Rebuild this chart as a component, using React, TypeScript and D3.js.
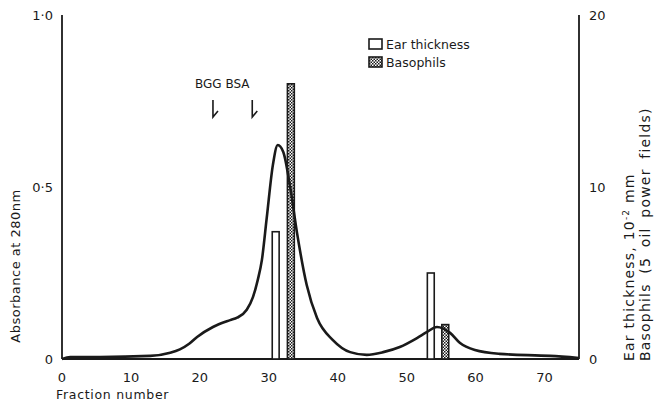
import * as d3 from 'd3'

const fractions = [0, 1.2, 5.5, 12.8, 15.7, 17.1, 18.5, 19.6, 21.9, 24.4, 25.4, 26.8, 27.7, 28.4, 29.0, 29.7, 30.6, 31.3, 32.1, 33.1, 34.1, 35.5, 37, 39.3, 41.8, 44.2, 46.6, 49, 51.5, 52.9, 54.4, 56.3, 57.7, 59.9, 63.5, 70.8, 75]
const absorbance = [0, 0.006, 0.006, 0.009, 0.018, 0.028, 0.045, 0.064, 0.093, 0.113, 0.12, 0.143, 0.18, 0.23, 0.288, 0.41, 0.565, 0.622, 0.602, 0.5, 0.366, 0.215, 0.119, 0.055, 0.02, 0.012, 0.02, 0.035, 0.061, 0.078, 0.093, 0.076, 0.047, 0.026, 0.015, 0.009, 0.003]

const earFractions = [31, 53.5]
const earThickness = [7.4, 5.0]
const basoFractions = [33.2, 55.6]
const basophils = [16, 2.0]

const markerLabels = ['BGG', 'BSA']
const markerFractions = [21.9, 27.6]

const xTicks = [0, 10, 20, 30, 40, 50, 60, 70]
const leftTicks = [0, 0.5, 1]
const leftTickLabels = ['0', '0·5', '1·0']
const rightTicks = [0, 10, 20]

const W = 656
const H = 414
const M = { top: 15, right: 77, bottom: 55, left: 62 }
const FONT = '"DejaVu Sans", sans-serif'
const INK = '#1a1a1a'

export default function App() {
  const x = d3.scaleLinear().domain([0, 75]).range([M.left, W - M.right])
  const yL = d3.scaleLinear().domain([0, 1]).range([H - M.bottom, M.top])
  const yR = d3.scaleLinear().domain([0, 20]).range([H - M.bottom, M.top])

  const pts = fractions.map((f, i) => [f, absorbance[i]] as [number, number])
  const line = d3.line<[number, number]>()
    .x(d => x(d[0]))
    .y(d => yL(d[1]))
    .curve(d3.curveMonotoneX)

  const barW = x(1) - x(0)
  const base = yL(0)

  return (
    <div style={{ position: 'fixed', left: 0, top: 0 }}>
      <svg width={W} height={H} style={{ display: 'block', background: '#fff' }}>
        <defs>
          <pattern id="stip" width="3" height="3" patternUnits="userSpaceOnUse">
            <rect width="3" height="3" fill="#fff" />
            <rect x="0" y="0" width="1.5" height="1.5" fill={INK} />
            <rect x="1.5" y="1.5" width="1.5" height="1.5" fill={INK} />
          </pattern>
        </defs>

        {/* axes */}
        <line x1={x(0)} x2={x(0)} y1={M.top} y2={base} stroke={INK} strokeWidth={1.8} />
        <line x1={x(75)} x2={x(75)} y1={M.top} y2={base} stroke={INK} strokeWidth={1.8} />
        <line x1={x(0)} x2={x(75)} y1={base} y2={base} stroke={INK} strokeWidth={1.8} />

        {/* bars */}
        {earFractions.map((f, i) => (
          <rect key={`ear-${i}`} x={x(f) - barW / 2} y={yR(earThickness[i])} width={barW}
            height={base - yR(earThickness[i])} fill="#fff" stroke={INK} strokeWidth={1.6} />
        ))}
        {basoFractions.map((f, i) => (
          <rect key={`baso-${i}`} x={x(f) - barW / 2} y={yR(basophils[i])} width={barW}
            height={base - yR(basophils[i])} fill="url(#stip)" stroke={INK} strokeWidth={1.6} />
        ))}

        {/* absorbance curve */}
        <path d={line(pts) ?? ''} fill="none" stroke={INK} strokeWidth={2.6} strokeLinejoin="round" />

        {/* markers */}
        {markerFractions.map((f, i) => (
          <path key={markerLabels[i]} d={`M${x(f)},${100} L${x(f)},${117} L${x(f) + 5},${111}`}
            fill="none" stroke={INK} strokeWidth={1.6} />
        ))}
        <text x={195} y={88} fontFamily={FONT} fontSize={12} fill={INK}>
          {markerLabels.join(' ')}
        </text>

        {/* x ticks */}
        {xTicks.map(t => (
          <text key={t} x={x(t)} y={382} textAnchor="middle" fontFamily={FONT} fontSize={13} fill={INK}>{t}</text>
        ))}
        <text x={x(0) - 6} y={399} fontFamily={FONT} fontSize={12.5} letterSpacing={0.7} fill={INK}>Fraction number</text>

        {/* left ticks */}
        {leftTicks.map((t, i) => (
          <text key={t} x={53} y={yL(t) + 5} textAnchor="end" fontFamily={FONT} fontSize={13} fill={INK}>{leftTickLabels[i]}</text>
        ))}
        <text transform={`translate(20, ${266}) rotate(-90)`} textAnchor="middle" fontFamily={FONT}
          fontSize={13} letterSpacing={0.5} fill={INK}>Absorbance at 280nm</text>

        {/* right ticks */}
        {rightTicks.map(t => (
          <text key={t} x={589} y={yR(t) + 5} fontFamily={FONT} fontSize={13} fill={INK}>{t}</text>
        ))}
        <text transform={`translate(634, 361) rotate(-90)`} fontFamily={FONT} fontSize={14} letterSpacing={1.2} fill={INK}>
          Ear thickness, 10<tspan dy={-5} fontSize={9}>-2</tspan><tspan dy={5}> mm</tspan>
        </text>
        <text transform={`translate(650, 361) rotate(-90)`} fontFamily={FONT} fontSize={14} letterSpacing={1.2}
          wordSpacing={4} fill={INK}>
          Basophils (5 oil power fields)
        </text>

        {/* legend */}
        <rect x={369} y={39} width={13} height={10} fill="#fff" stroke={INK} strokeWidth={1.6} />
        <text x={386} y={49} fontFamily={FONT} fontSize={12.5} fill={INK}>Ear thickness</text>
        <rect x={369} y={57} width={13} height={10} fill="url(#stip)" stroke={INK} strokeWidth={1.6} />
        <text x={386} y={67} fontFamily={FONT} fontSize={12.5} fill={INK}>Basophils</text>
      </svg>
    </div>
  )
}
